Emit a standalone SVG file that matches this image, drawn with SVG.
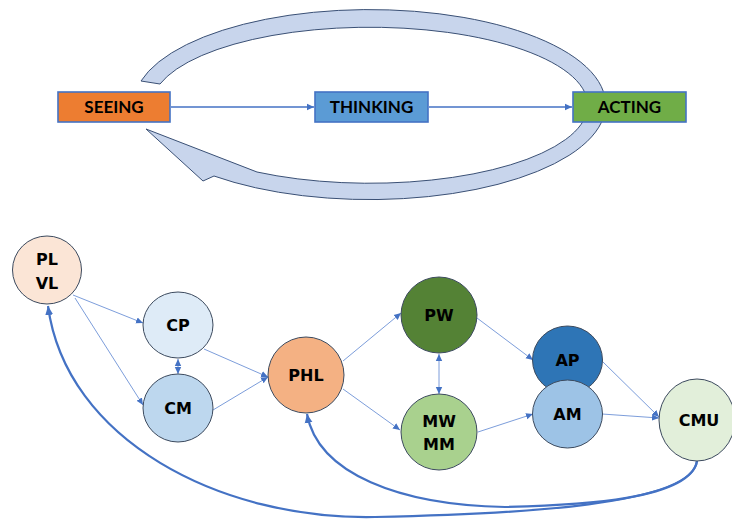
<svg xmlns="http://www.w3.org/2000/svg" width="732" height="522" viewBox="0 0 732 522">
<style>
.box{stroke:#4472C4;stroke-width:1.6}
.btxt{font-family:Lato,"Open Sans",sans-serif;font-weight:bold;font-size:17px;fill:#000;text-anchor:middle}
.nd{stroke:#3C4A5E;stroke-width:1}
.ntxt{font-family:"DejaVu Sans",sans-serif;font-weight:bold;font-size:16px;fill:#000;text-anchor:middle}
.thin{stroke:#5B84D0;stroke-width:0.8;fill:none}
.mid{stroke:#4472C4;stroke-width:1.5;fill:none}
.thick{stroke:#4472C4;stroke-width:2.2;fill:none}
</style>
<defs>
<marker id="a" markerUnits="userSpaceOnUse" markerWidth="8" markerHeight="8" refX="7" refY="4" orient="auto-start-reverse"><path d="M0,0.8 L7,4 L0,7.2 Z" fill="#4472C4"/></marker>
<marker id="b" markerUnits="userSpaceOnUse" markerWidth="10" markerHeight="10" refX="9" refY="5" orient="auto"><path d="M0,1 L9,5 L0,9 Z" fill="#4472C4"/></marker>
</defs>
<g id="cycle">
<path d="M141,81 A236 95 0 1 1 214,176 L203,181 L146,129 L257,172 A218 78 0 1 0 160,84 Z" fill="#C8D5EC" stroke="#3A5075" stroke-width="1"/>
</g>
<g id="connectors">
<line class="mid" x1="171" y1="107" x2="314" y2="107" marker-end="url(#a)"/>
<line class="mid" x1="429" y1="107" x2="572" y2="107" marker-end="url(#a)"/>
<line class="thin" x1="73" y1="295" x2="143" y2="323" marker-end="url(#a)"/>
<line class="thin" x1="75" y1="298" x2="143" y2="405" marker-end="url(#a)"/>
<line class="thin" x1="178" y1="359" x2="178" y2="374" marker-start="url(#a)" marker-end="url(#a)"/>
<line class="thin" x1="204" y1="349" x2="268" y2="377" marker-end="url(#a)"/>
<line class="thin" x1="213" y1="410" x2="268" y2="377" marker-end="url(#a)"/>
<line class="thin" x1="343" y1="361" x2="401" y2="313" marker-end="url(#a)"/>
<line class="thin" x1="343" y1="389" x2="400" y2="430" marker-end="url(#a)"/>
<line class="thin" x1="439" y1="354" x2="439" y2="394" marker-start="url(#a)" marker-end="url(#a)"/>
<line class="thin" x1="477" y1="318" x2="533" y2="360" marker-end="url(#a)"/>
<line class="thin" x1="478" y1="432" x2="533" y2="414" marker-end="url(#a)"/>
<line class="thin" x1="602" y1="361" x2="659" y2="417" marker-end="url(#a)"/>
<line class="thin" x1="602" y1="414" x2="659" y2="418" marker-end="url(#a)"/>
<path class="thick" d="M697,461 C692,505 520,514 375,517 C220,520 66,440 48,306" marker-end="url(#b)"/>
<path class="thick" d="M697,461 C690,500 580,505 505,507 C400,505 318,474 307,414" marker-end="url(#b)"/>
</g>
<g id="seeing"><rect class="box" x="58" y="92" width="112" height="30" fill="#ED7D31"/><text class="btxt" x="114" y="113">SEEING</text></g>
<g id="thinking"><rect class="box" x="315" y="92" width="113" height="30" fill="#5B9BD5"/><text class="btxt" x="371.5" y="113">THINKING</text></g>
<g id="acting"><rect class="box" x="573" y="92" width="113" height="30" fill="#70AD47"/><text class="btxt" x="629.5" y="113">ACTING</text></g>
<g id="plvl"><ellipse class="nd" cx="47" cy="270" rx="34.5" ry="34" fill="#FBE5D6"/><text class="ntxt" x="47" y="265">PL</text><text class="ntxt" x="47" y="289">VL</text></g>
<g id="cp"><ellipse class="nd" cx="178" cy="325" rx="35" ry="33" fill="#DEEBF7"/><text class="ntxt" x="178" y="331">CP</text></g>
<g id="cm"><ellipse class="nd" cx="178" cy="408" rx="35" ry="34" fill="#BDD7EE"/><text class="ntxt" x="178" y="414">CM</text></g>
<g id="phl"><ellipse class="nd" cx="306" cy="375" rx="38" ry="38" fill="#F4B183"/><text class="ntxt" x="306" y="381">PHL</text></g>
<g id="pw"><ellipse class="nd" cx="439" cy="315" rx="38" ry="38" fill="#548235"/><text class="ntxt" x="439" y="321">PW</text></g>
<g id="mwmm"><ellipse class="nd" cx="439" cy="432" rx="38" ry="38" fill="#A9D18E"/><text class="ntxt" x="439" y="427">MW</text><text class="ntxt" x="439" y="450">MM</text></g>
<g id="ap"><ellipse class="nd" cx="567.5" cy="360" rx="35" ry="34" fill="#2E75B6"/><text class="ntxt" x="567.5" y="366">AP</text></g>
<g id="am"><ellipse class="nd" cx="567.5" cy="414" rx="35" ry="34" fill="#9DC3E6"/><text class="ntxt" x="567.5" y="420">AM</text></g>
<g id="cmu"><ellipse class="nd" cx="697" cy="420" rx="38" ry="41" fill="#E2EFDA"/><text class="ntxt" x="699" y="426">CMU</text></g>
</svg>
